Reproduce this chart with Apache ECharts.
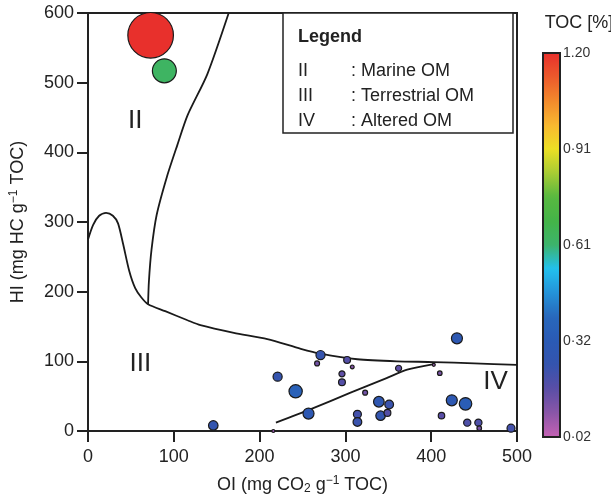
<!DOCTYPE html>
<html>
<head>
<meta charset="utf-8">
<script src="https://cdn.jsdelivr.net/npm/echarts@6/dist/echarts.min.js"></script>
<style>
html,body{margin:0;padding:0;background:#fff;}
#main{width:611px;height:500px;}
</style>
</head>
<body>
<div id="main"></div>
<script>
// 样品数据：OI, HI, TOC
var oiValues  = [73, 89, 430, 271, 267, 302, 308, 221, 296, 296, 362, 403, 410, 242, 323, 339, 351, 257, 314, 314, 341, 349, 424, 440, 412, 442, 455, 456, 493, 146, 216];
var hiValues  = [568, 517, 133, 109, 97, 102, 92, 78, 82, 70, 90, 95, 83, 57, 55, 42, 38, 25, 24, 13, 22, 26, 44, 39, 22, 12, 12, 4, 4, 8, 0];
var tocValues = [1.2, 0.63, 0.29, 0.24, 0.13, 0.18, 0.1, 0.24, 0.16, 0.18, 0.16, 0.08, 0.12, 0.35, 0.13, 0.28, 0.23, 0.29, 0.21, 0.23, 0.25, 0.18, 0.29, 0.33, 0.17, 0.19, 0.19, 0.12, 0.21, 0.25, 0.08];

// 分区边界线
var lowerBoundary  = [[0,275],[6,296],[13,309],[21,313],[29,309],[35,298],[41,268],[48,230],[55,205],[62,192],[70,182],[90,172],[116,159],[131,152],[170,141],[209,132],[248,118],[271,111],[314,103],[360,100],[403,99],[450,97],[500,95]];
var marineBoundary = [[70,182],[71,215],[74,260],[80,310],[92,365],[104,410],[116,453],[139,512],[164,600]];
var alteredBoundary = [[219,12],[259,31],[306,55],[348,76],[372,88],[403,96]];

// 色标刻度
var tocTicks = ['0·02', '0·32', '0·61', '0·91', '1.20'];
var tocMin = 0.02, tocMax = 1.2;

// 分区标注与图例
var zoneLabels = [['II', 55, 445], ['III', 61, 97], ['IV', 475, 71]];
var legendRows = [['II', ': Marine OM'], ['III', ': Terrestrial OM'], ['IV', ': Altered OM']];

var points = [];
for (var i = 0; i < oiValues.length; i++) {
	points.push([oiValues[i], hiValues[i], tocValues[i]]);
}

var myChart = echarts.init(document.getElementById('main'));
var font = 'Liberation Sans, Arial, sans-serif';

function boundary(data) {
	return {
		type: 'line', data: data, xAxisIndex: 0, yAxisIndex: 0,
		smooth: 0.25, symbol: 'none', silent: true,
		lineStyle: {color: '#1a1a1a', width: 1.8}, z: 2
	};
}

var option = {
	animation: false,
	backgroundColor: '#fff',
	textStyle: {fontFamily: font},
	grid: [
		{left: 87, top: 13, right: 94, bottom: 65, show: true, borderColor: '#222', borderWidth: 2, backgroundColor: '#fff'},
		{left: 543, top: 53, width: 17, height: 384, show: true, borderColor: '#222', borderWidth: 2, backgroundColor: 'transparent', z: 5}
	],
	xAxis: [{
		gridIndex: 0, type: 'value', min: 0, max: 500, interval: 100,
		name: 'OI (mg CO{sub|2} g{sup|−1} TOC)', nameLocation: 'middle', nameGap: 44,
		nameTextStyle: {fontSize: 18, color: '#222', rich: {sub: {fontSize: 12, verticalAlign: 'bottom', padding: [8, 0, 0, 0]}, sup: {fontSize: 12, verticalAlign: 'top', padding: [0, 0, 8, 0]}}},
		axisLine: {lineStyle: {color: '#222', width: 2}},
		axisTick: {inside: false, length: 11, lineStyle: {color: '#222', width: 2}},
		axisLabel: {fontSize: 18, color: '#222', margin: 17},
		splitLine: {show: false}
	}, {
		gridIndex: 1, type: 'value', show: false, min: 0, max: 1
	}],
	yAxis: [{
		gridIndex: 0, type: 'value', min: 0, max: 600, interval: 100,
		name: 'HI (mg HC g{sup|−1} TOC)', nameLocation: 'middle', nameGap: 60,
		nameTextStyle: {fontSize: 18, color: '#222', rich: {sup: {fontSize: 12, verticalAlign: 'top', padding: [0, 0, 8, 0]}}},
		axisLine: {lineStyle: {color: '#222', width: 2}},
		axisTick: {inside: false, length: 11, lineStyle: {color: '#222', width: 2}},
		axisLabel: {fontSize: 18, color: '#222', margin: 14},
		splitLine: {show: false}
	}, {
		gridIndex: 1, type: 'value', position: 'right', min: 0, max: tocTicks.length - 1, interval: 1,
		axisLine: {show: false},
		axisTick: {inside: false, length: 8, lineStyle: {color: '#222', width: 1.5}},
		axisLabel: {fontSize: 14, color: '#333', margin: 3, formatter: function (v) { return tocTicks[Math.round(v)]; }},
		splitLine: {show: false}
	}],
	visualMap: {
		type: 'continuous', seriesIndex: 3, dimension: 2,
		min: tocMin, max: tocMax, calculable: false, text: null,
		left: 543, top: 53, itemWidth: 17, itemHeight: 384, padding: 0,
		inRange: {color: ['#c462b4', '#8a56a8', '#5a4ea6', '#3454ae', '#2a5ab4', '#2868bc', '#2492d8', '#22c0ee', '#3cb46c', '#44b448', '#58b840', '#a8cc34', '#ecdf24', '#f8b830', '#f38a2c', '#ec5a2c', '#e8302c']}
	},
	series: [
		boundary(lowerBoundary),
		boundary(marineBoundary),
		boundary(alteredBoundary),
		{
			type: 'scatter', data: points, xAxisIndex: 0, yAxisIndex: 0, z: 3,
			symbolSize: function (v) { return 38 * v[2]; },
			itemStyle: {borderColor: '#1a1a1a', borderWidth: 1.2, opacity: 1}
		}
	]
};
myChart.setOption(option);

// 分区标注 II / III / IV
var graphics = [];
zoneLabels.forEach(function (z) {
	var p = myChart.convertToPixel({gridIndex: 0}, [z[1], z[2]]);
	graphics.push({type: 'text', x: p[0], y: p[1], z: 10,
		style: {text: z[0], fontSize: 26, fontFamily: font, fill: '#222', align: 'center', verticalAlign: 'middle'}});
});

// 色标标题
graphics.push({type: 'text', x: 579, y: 23, z: 10,
	style: {text: 'TOC [%]', fontSize: 18, fontFamily: font, fill: '#222', align: 'center', verticalAlign: 'middle'}});

// 图例框
var legendChildren = [
	{type: 'rect', shape: {x: 0, y: 0, width: 230, height: 120}, style: {fill: '#fff', stroke: '#222', lineWidth: 1.5}},
	{type: 'text', x: 15, y: 24, style: {text: 'Legend', fontSize: 18, fontWeight: 'bold', fontFamily: font, fill: '#222', verticalAlign: 'middle'}}
];
legendRows.forEach(function (r, k) {
	legendChildren.push({type: 'text', x: 15, y: 58 + k * 25, style: {text: r[0], fontSize: 18, fontFamily: font, fill: '#222', verticalAlign: 'middle'}});
	legendChildren.push({type: 'text', x: 68, y: 58 + k * 25, style: {text: r[1], fontSize: 18, fontFamily: font, fill: '#222', verticalAlign: 'middle'}});
});
graphics.push({type: 'group', x: 283, y: 13, z: 10, children: legendChildren});

myChart.setOption({graphic: graphics});
</script>
</body>
</html>
